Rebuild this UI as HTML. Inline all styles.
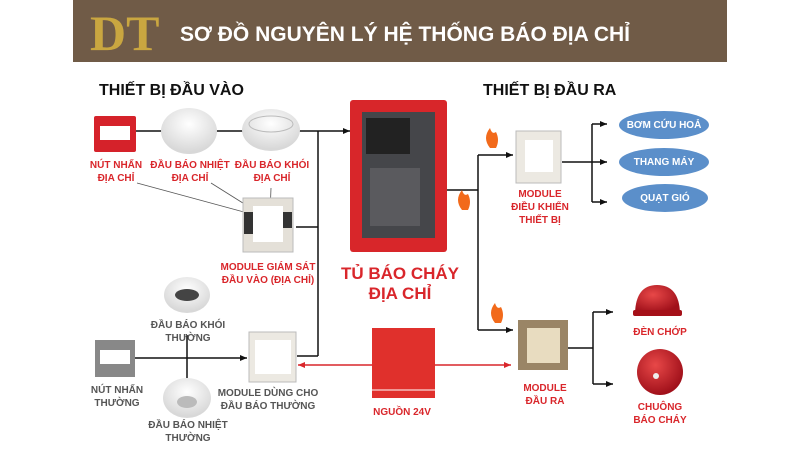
<!DOCTYPE html>
<html><head><meta charset="utf-8"><style>
html,body{margin:0;padding:0;background:#fff;width:800px;height:450px;overflow:hidden}
svg{display:block;font-family:"Liberation Sans","DejaVu Sans",sans-serif}
.r{fill:#d9262b;font-weight:bold;font-size:10px;text-anchor:middle}
.g{fill:#555;font-weight:bold;font-size:10px;text-anchor:middle}
.w{fill:#fff;font-weight:bold;font-size:10px;text-anchor:middle}
</style></head><body>
<svg width="800" height="450" viewBox="0 0 800 450">
<defs>
<marker id="a" markerWidth="8" markerHeight="8" refX="7" refY="4" orient="auto" markerUnits="userSpaceOnUse"><path d="M0,1 L7,4 L0,7z" fill="#111"/></marker>
<marker id="ar" markerWidth="8" markerHeight="8" refX="7" refY="4" orient="auto" markerUnits="userSpaceOnUse"><path d="M0,1 L7,4 L0,7z" fill="#d9262b"/></marker>
<radialGradient id="wd" cx="50%" cy="35%" r="60%"><stop offset="0" stop-color="#fff"/><stop offset="1" stop-color="#d8d8d8"/></radialGradient>
<radialGradient id="rd" cx="40%" cy="35%" r="65%"><stop offset="0" stop-color="#e84848"/><stop offset="1" stop-color="#a0101a"/></radialGradient>
</defs>
<rect x="73" y="0" width="654" height="62" fill="#705b47"/>
<text x="90" y="50" font-family="Liberation Serif,serif" font-size="50" font-weight="bold" fill="#c9a640">DT</text>
<text x="180" y="41" font-size="21" font-weight="bold" fill="#fff">SƠ ĐỒ NGUYÊN LÝ HỆ THỐNG BÁO ĐỊA CHỈ</text>
<text x="99" y="95" font-size="16" font-weight="bold" fill="#111">THIẾT BỊ ĐẦU VÀO</text>
<text x="483" y="95" font-size="16" font-weight="bold" fill="#111">THIẾT BỊ ĐẦU RA</text>
<g stroke="#111" stroke-width="1.5" fill="none">
<line x1="136" y1="131" x2="350" y2="131" marker-end="url(#a)"/>
<line x1="318" y1="131" x2="318" y2="356"/>
<line x1="296" y1="227" x2="318" y2="227"/>
<line x1="297" y1="356" x2="318" y2="356"/>
<line x1="135" y1="358" x2="247" y2="358" marker-end="url(#a)"/>
<line x1="187" y1="335" x2="187" y2="378"/>
<line x1="447" y1="190" x2="478" y2="190"/>
<line x1="478" y1="155" x2="478" y2="330"/>
<line x1="478" y1="155" x2="513" y2="155" marker-end="url(#a)"/>
<line x1="478" y1="330" x2="513" y2="330" marker-end="url(#a)"/>
<line x1="562" y1="162" x2="592" y2="162"/>
<line x1="592" y1="124" x2="592" y2="202"/>
<line x1="592" y1="124" x2="607" y2="124" marker-end="url(#a)"/>
<line x1="592" y1="162" x2="607" y2="162" marker-end="url(#a)"/>
<line x1="592" y1="202" x2="607" y2="202" marker-end="url(#a)"/>
<line x1="568" y1="348" x2="593" y2="348"/>
<line x1="593" y1="312" x2="593" y2="384"/>
<line x1="593" y1="312" x2="613" y2="312" marker-end="url(#a)"/>
<line x1="593" y1="384" x2="613" y2="384" marker-end="url(#a)"/>
</g>
<g stroke="#555" stroke-width="0.8"><line x1="137" y1="183" x2="255" y2="215"/><line x1="211" y1="183" x2="262" y2="215"/><line x1="271" y1="188" x2="270" y2="215"/></g>
<g stroke="#d9262b" stroke-width="1.5"><line x1="372" y1="365" x2="298" y2="365" marker-end="url(#ar)"/><line x1="435" y1="365" x2="511" y2="365" marker-end="url(#ar)"/></g>
<rect x="94" y="116" width="42" height="36" fill="#d5222a" rx="2"/><rect x="100" y="126" width="30" height="14" fill="#fff"/>
<ellipse cx="189" cy="131" rx="28" ry="23" fill="url(#wd)"/>
<ellipse cx="271" cy="130" rx="29" ry="21" fill="url(#wd)"/><ellipse cx="271" cy="124" rx="22" ry="8" fill="none" stroke="#bbb"/>
<rect x="243" y="198" width="50" height="54" fill="#e4e0d8" stroke="#bbb"/><rect x="253" y="206" width="30" height="36" fill="#fff"/><rect x="244" y="212" width="9" height="22" fill="#333"/><rect x="283" y="212" width="9" height="16" fill="#333"/>
<rect x="350" y="100" width="97" height="152" fill="#d8262a" rx="3"/><rect x="362" y="112" width="73" height="126" fill="#45464a"/><rect x="366" y="118" width="44" height="36" fill="#222"/><rect x="370" y="168" width="50" height="58" fill="#5a5a5e"/>
<ellipse cx="187" cy="295" rx="23" ry="18" fill="url(#wd)"/><ellipse cx="187" cy="295" rx="12" ry="6" fill="#444"/>
<rect x="95" y="340" width="40" height="37" fill="#888"/><rect x="100" y="350" width="30" height="14" fill="#fff"/>
<ellipse cx="187" cy="398" rx="24" ry="20" fill="url(#wd)"/><ellipse cx="187" cy="402" rx="10" ry="6" fill="#bbb"/>
<rect x="249" y="332" width="47" height="50" fill="#ece9e2" stroke="#bbb"/><rect x="255" y="340" width="36" height="34" fill="#fff"/>
<rect x="372" y="328" width="63" height="70" fill="#e0302c"/><line x1="372" y1="390" x2="435" y2="390" stroke="#fff" stroke-width="1"/>
<rect x="516" y="131" width="45" height="52" fill="#ece9e2" stroke="#bbb"/><rect x="525" y="140" width="28" height="32" fill="#fff"/>
<rect x="518" y="320" width="50" height="50" fill="#9a8566"/><rect x="527" y="328" width="33" height="35" fill="#e8dcc0"/>
<ellipse cx="664" cy="125" rx="45" ry="14" fill="#5b8fca"/><text x="664" y="128" class="w">BƠM CỨU HOẢ</text>
<ellipse cx="664" cy="162" rx="45" ry="14" fill="#5b8fca"/><text x="664" y="165" class="w">THANG MÁY</text>
<ellipse cx="665" cy="198" rx="43" ry="14" fill="#5b8fca"/><text x="665" y="201" class="w">QUẠT GIÓ</text>
<path d="M635,313 Q636,285 657,285 Q679,285 680,313z" fill="url(#rd)"/><rect x="633" y="310" width="49" height="6" fill="#a51018" rx="2"/>
<circle cx="660" cy="372" r="23" fill="url(#rd)"/><circle cx="656" cy="376" r="3" fill="#eee"/>
<g fill="#f26a1b"><path d="M490,148 Q482,138 490,128 Q492,135 496,132 Q500,140 496,148z"/><path d="M462,210 Q454,200 462,190 Q464,197 468,194 Q472,202 468,210z"/><path d="M495,323 Q487,313 495,303 Q497,310 501,307 Q505,315 501,323z"/></g>
<text x="116" y="168" class="r">NÚT NHẤN</text><text x="116" y="181" class="r">ĐỊA CHỈ</text>
<text x="190" y="168" class="r">ĐẦU BÁO NHIỆT</text><text x="190" y="181" class="r">ĐỊA CHỈ</text>
<text x="272" y="168" class="r">ĐẦU BÁO KHÓI</text><text x="272" y="181" class="r">ĐỊA CHỈ</text>
<text x="268" y="270" class="r">MODULE GIÁM SÁT</text><text x="268" y="283" class="r">ĐẦU VÀO (ĐỊA CHỈ)</text>
<text x="400" y="279" font-size="17" font-weight="bold" fill="#d9262b" text-anchor="middle">TỦ BÁO CHÁY</text>
<text x="400" y="299" font-size="17" font-weight="bold" fill="#d9262b" text-anchor="middle">ĐỊA CHỈ</text>
<text x="188" y="328" class="g">ĐẦU BÁO KHÓI</text><text x="188" y="341" class="g">THƯỜNG</text>
<text x="117" y="393" class="g">NÚT NHẤN</text><text x="117" y="406" class="g">THƯỜNG</text>
<text x="188" y="428" class="g">ĐẦU BÁO NHIỆT</text><text x="188" y="441" class="g">THƯỜNG</text>
<text x="268" y="396" class="g">MODULE DÙNG CHO</text><text x="268" y="409" class="g">ĐẦU BÁO THƯỜNG</text>
<text x="402" y="415" class="r">NGUỒN 24V</text>
<text x="540" y="197" class="r">MODULE</text><text x="540" y="210" class="r">ĐIỀU KHIỂN</text><text x="540" y="223" class="r">THIẾT BỊ</text>
<text x="545" y="391" class="r">MODULE</text><text x="545" y="404" class="r">ĐẦU RA</text>
<text x="660" y="335" class="r">ĐÈN CHỚP</text>
<text x="660" y="410" class="r">CHUÔNG</text><text x="660" y="423" class="r">BÁO CHÁY</text>
</svg>
</body></html>
